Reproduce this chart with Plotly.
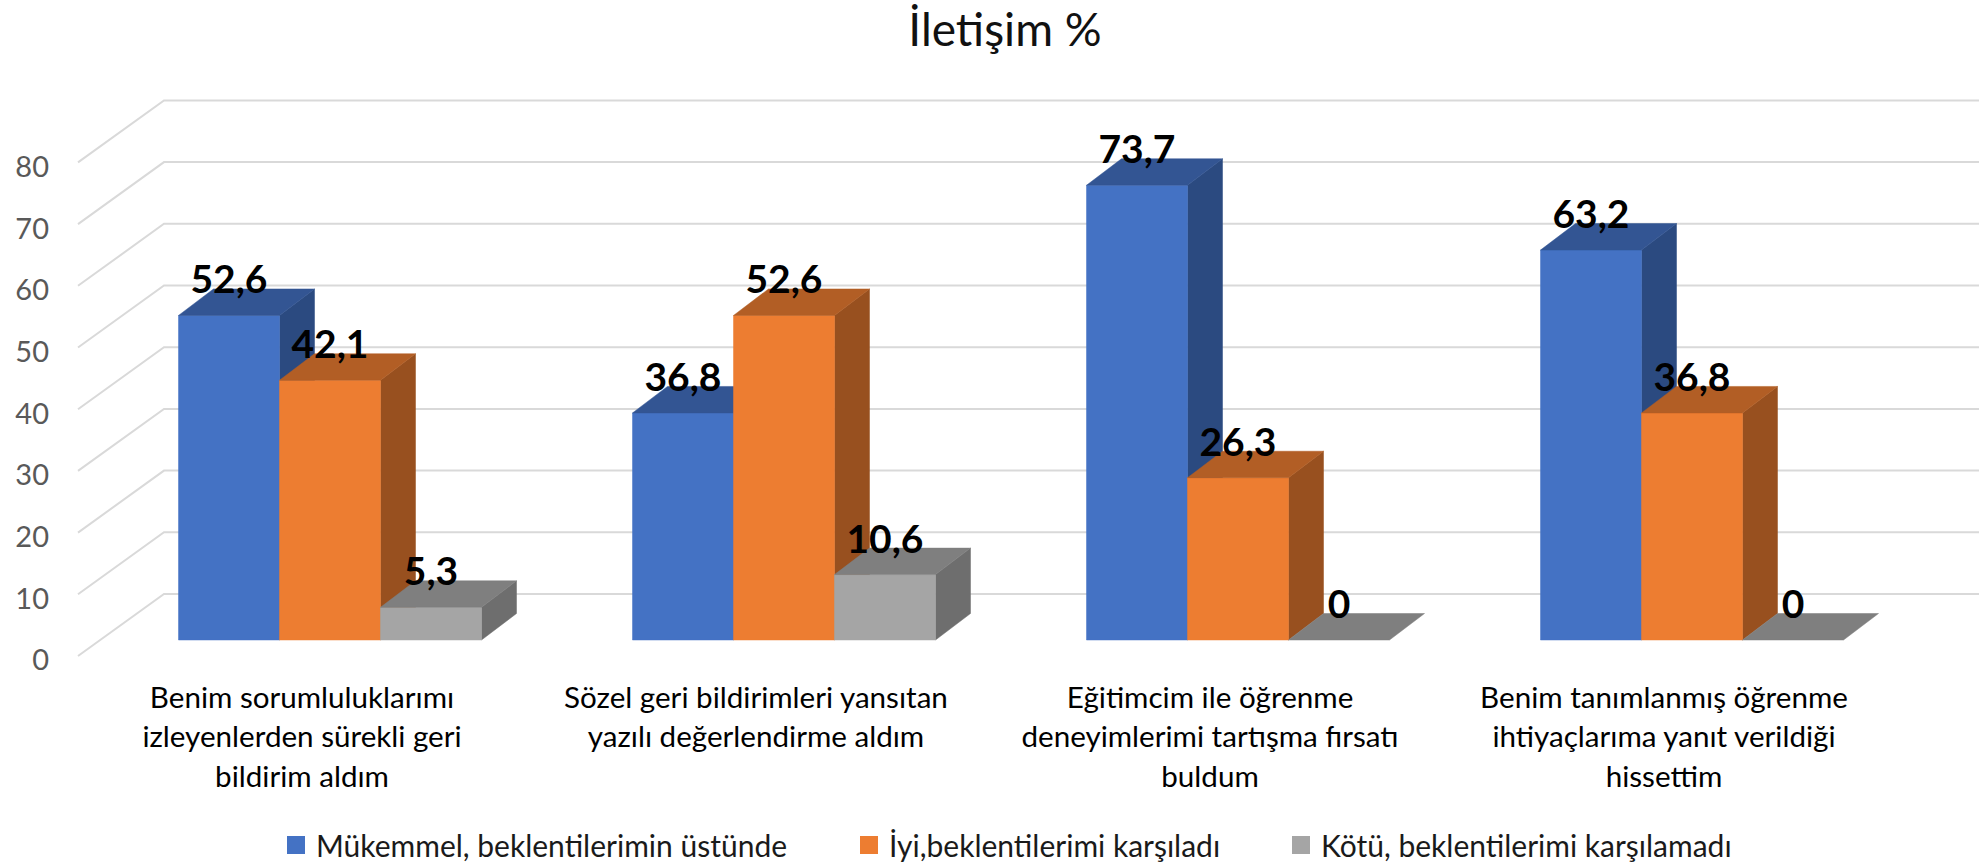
import plotly.graph_objects as go

# ---------- data ----------
title_text = "İletişim %"
category_lines = [
    ["Benim sorumluluklarımı", "izleyenlerden sürekli geri", "bildirim aldım"],
    ["Sözel geri bildirimleri yansıtan", "yazılı değerlendirme aldım"],
    ["Eğitimcim ile öğrenme", "deneyimlerimi tartışma fırsatı", "buldum"],
    ["Benim tanımlanmış öğrenme", "ihtiyaçlarıma yanıt verildiği", "hissettim"],
]
series_names = [
    "Mükemmel, beklentilerimin üstünde",
    "İyi,beklentilerimi karşıladı",
    "Kötü, beklentilerimi karşılamadı",
]
excellent = [52.6, 36.8, 73.7, 63.2]
good = [42.1, 52.6, 26.3, 36.8]
poor = [5.3, 10.6, 0, 0]
axis_ticks = [0, 10, 20, 30, 40, 50, 60, 70, 80]

# ---------- styling ----------
FONT = "Lato"
front_colors = ["#4472C4", "#ED7D31", "#A5A5A5"]
top_colors = ["#335593", "#B25E25", "#7F7F7F"]
side_colors = ["#2B4A80", "#98501F", "#6E6E6E"]
GRID = "#D9D9D9"

W, H = 1979, 865
M_L, M_R, M_T, M_B = 50, 0, 90, 195
GROUP_PX = 454.0
UNIT_PX = 6.17
X0_PX = 302.0
Y0_PX = 640.0

bar_w = 101.0 / GROUP_PX
bar_shift = 28.0 / GROUP_PX
depth_x = 35.0 / GROUP_PX
depth_y = 26.5 / UNIT_PX
floor_front = -16.0 / UNIT_PX
floor_back = 46.0 / UNIT_PX
wall_left = (164.0 - X0_PX) / GROUP_PX
front_left = (78.0 - X0_PX) / GROUP_PX
tick_label_drop = 0.7

x_range = [(M_L - X0_PX) / GROUP_PX, (W - M_R - X0_PX) / GROUP_PX]
y_range = [(Y0_PX - (H - M_B)) / UNIT_PX, (Y0_PX - M_T) / UNIT_PX]

fig = go.Figure()

# walls: gridlines with the receding diagonal
gx, gy = [], []
for v in axis_ticks:
    gx += [front_left, wall_left, x_range[1], None]
    gy += [v + floor_front, v + floor_back, v + floor_back, None]
fig.add_trace(go.Scatter(x=gx, y=gy, mode="lines", line=dict(color=GRID, width=2),
                         hoverinfo="skip", showlegend=False))

all_series = [excellent, good, poor]


def poly(store, pts):
    for px, py in pts:
        store[0].append(px)
        store[1].append(py)
    store[0].append(None)
    store[1].append(None)


for s, vals in enumerate(all_series):
    front, top, side = ([], []), ([], []), ([], [])
    for i, v in enumerate(vals):
        left = i + bar_shift + (s - 1.5) * bar_w
        right = left + bar_w
        if v > 0:
            poly(front, [(left, 0), (right, 0), (right, v), (left, v), (left, 0)])
            poly(side, [(right, 0), (right + depth_x, depth_y), (right + depth_x, v + depth_y),
                        (right, v), (right, 0)])
        poly(top, [(left, v), (right, v), (right + depth_x, v + depth_y),
                   (left + depth_x, v + depth_y), (left, v)])
    for store, color in ((side, side_colors[s]), (front, front_colors[s]), (top, top_colors[s])):
        fig.add_trace(go.Scatter(x=store[0], y=store[1], mode="lines", fill="toself",
                                 fillcolor=color, line=dict(color=color, width=0.5),
                                 hoverinfo="skip", showlegend=False))

# data labels
for s, vals in enumerate(all_series):
    fig.add_trace(go.Scatter(
        x=[i + bar_shift + (s - 1.0) * bar_w for i in range(len(vals))],
        y=[v + depth_y + 0.85 for v in vals],
        mode="text",
        text=[str(v).replace(".", ",") for v in vals],
        textposition="middle center",
        textfont=dict(family=FONT, size=39, color="#000000"),
        texttemplate="<b>%{text}</b>",
        hoverinfo="skip", showlegend=False, cliponaxis=False))

# legend entries, one legend each so the entries sit where they do in the chart
legend_names = ["legend", "legend2", "legend3"]
legend_text_px = [326, 899, 1331]
for s, name in enumerate(series_names):
    fig.add_trace(go.Scatter(
        x=[None], y=[None], mode="markers", name=name, legend=legend_names[s],
        marker=dict(symbol="square", size=16, color=front_colors[s],
                    line=dict(color=front_colors[s], width=2))))


def legend_cfg(text_px):
    return dict(xref="container", yref="container", x=(text_px - 50) / W, y=1 - 845 / H,
                xanchor="left", yanchor="middle", orientation="h",
                bgcolor="rgba(0,0,0,0)", font=dict(family=FONT, size=30, color="#1a1a1a"))


tick_text = ["<br>".join(f'<span style="font-size:29.6px">{ln}</span>' for ln in lines)
             for lines in category_lines]

fig.update_layout(
    width=W, height=H, autosize=False,
    margin=dict(l=M_L, r=M_R, t=M_T, b=M_B, pad=0),
    paper_bgcolor="#FFFFFF", plot_bgcolor="#FFFFFF",
    title=dict(text=title_text, x=1005 / W, xanchor="center", y=1 - 30 / H, yanchor="middle",
               font=dict(family=FONT, size=46, color="#111111")),
    legend=legend_cfg(legend_text_px[0]),
    legend2=legend_cfg(legend_text_px[1]),
    legend3=legend_cfg(legend_text_px[2]),
    xaxis=dict(range=x_range, tickmode="array", tickvals=list(range(len(category_lines))),
               ticktext=tick_text, showgrid=False, zeroline=False, showline=False, ticks="",
               ticklabelstandoff=6,
               tickangle=0, tickfont=dict(family=FONT, size=30.6, color="#000000"), fixedrange=True),
    yaxis=dict(range=y_range, tickmode="array",
               tickvals=[v + floor_front - tick_label_drop for v in axis_ticks],
               ticktext=[str(v) for v in axis_ticks], showgrid=False, zeroline=False, showline=False,
               ticks="", tickfont=dict(family=FONT, size=29, color="#595959"), fixedrange=True),
    hovermode=False,
)

fig.write_html("out.html", config={"displayModeBar": False},
               post_script="document.body.style.margin='0';document.documentElement.style.overflow='hidden';")
